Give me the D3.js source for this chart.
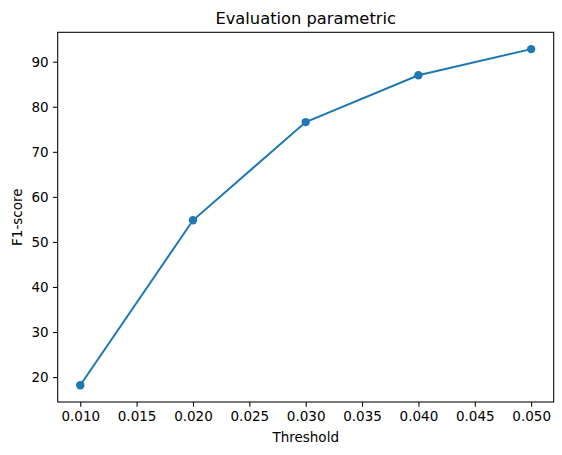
<!DOCTYPE html>
<html>
<head>
<meta charset="utf-8">
<script src="https://cdn.jsdelivr.net/npm/d3@7"></script>
<style>
  body { margin: 0; background: #fff; }
  svg { display: block; font-family: "DejaVu Sans", sans-serif; }
</style>
</head>
<body>
<svg id="chart" width="562" height="455"></svg>
<script>
// values
const thresholds = [0.01, 0.02, 0.03, 0.04, 0.05];
const f1Scores = [18.2, 54.8, 76.6, 87.0, 92.8];
const xTicks = [0.010, 0.015, 0.020, 0.025, 0.030, 0.035, 0.040, 0.045, 0.050];
const yTicks = [20, 30, 40, 50, 60, 70, 80, 90];

const width = 562;
const height = 455;
const margin = { top: 32.3, right: 8.3, bottom: 53, left: 57.7 };
const color = "#1f77b4";

const svg = d3.select("#chart");

// matplotlib style 5% margins
const xPad = (d3.max(thresholds) - d3.min(thresholds)) * 0.05;
const yPad = (d3.max(f1Scores) - d3.min(f1Scores)) * 0.05;

const x = d3.scaleLinear()
    .domain([d3.min(thresholds) - xPad, d3.max(thresholds) + xPad])
    .range([margin.left, width - margin.right]);

const y = d3.scaleLinear()
    .domain([d3.min(f1Scores) - yPad, d3.max(f1Scores) + yPad])
    .range([height - margin.bottom, margin.top]);

const xAxis = svg.append("g")
    .attr("transform", `translate(0,${height - margin.bottom})`)
    .call(d3.axisBottom(x).tickValues(xTicks).tickFormat(d3.format(".3f"))
        .tickSizeOuter(0).tickSize(4.7).tickPadding(4.3));

const yAxis = svg.append("g")
    .attr("transform", `translate(${margin.left},0)`)
    .call(d3.axisLeft(y).tickValues(yTicks).tickFormat(d3.format("d"))
        .tickSizeOuter(0).tickSize(4.7).tickPadding(4.3));

[xAxis, yAxis].forEach(g => {
    g.select(".domain").remove();
    g.selectAll(".tick line").attr("stroke", "#000").attr("stroke-width", 1.05);
    g.selectAll(".tick text")
        .attr("fill", "#000")
        .style("font-size", "13.5px")
        .style("font-family", "DejaVu Sans, sans-serif");
});

// frame
svg.append("rect")
    .attr("x", margin.left)
    .attr("y", margin.top)
    .attr("width", width - margin.left - margin.right)
    .attr("height", height - margin.top - margin.bottom)
    .attr("fill", "none")
    .attr("stroke", "#000")
    .attr("stroke-width", 1.05);

const points = thresholds.map((t, i) => [t, f1Scores[i]]);

svg.append("path")
    .datum(points)
    .attr("fill", "none")
    .attr("stroke", color)
    .attr("stroke-width", 2)
    .attr("d", d3.line().x(d => x(d[0])).y(d => y(d[1])));

svg.append("g")
    .selectAll("circle")
    .data(points)
    .enter().append("circle")
    .attr("cx", d => x(d[0]))
    .attr("cy", d => y(d[1]))
    .attr("r", 4.2)
    .attr("fill", color);

svg.append("text")
    .attr("x", (margin.left + width - margin.right) / 2)
    .attr("y", 24.3)
    .attr("text-anchor", "middle")
    .style("font-size", "16.3px")
    .text("Evaluation parametric");

svg.append("text")
    .attr("x", (margin.left + width - margin.right) / 2)
    .attr("y", 442)
    .attr("text-anchor", "middle")
    .style("font-size", "13.5px")
    .text("Threshold");

svg.append("text")
    .attr("transform", `translate(22,${(margin.top + height - margin.bottom) / 2}) rotate(-90)`)
    .attr("text-anchor", "middle")
    .style("font-size", "13.5px")
    .text("F1-score");
</script>
</body>
</html>
